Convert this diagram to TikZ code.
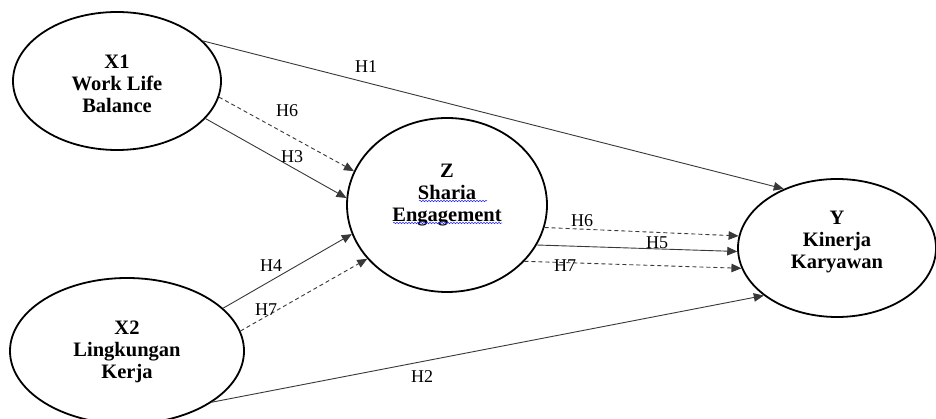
\documentclass[tikz,border=0pt]{standalone}
\usepackage{fontspec}
\setmainfont{Liberation Serif}
\usetikzlibrary{shapes.geometric,arrows.meta,decorations.pathmorphing}
\begin{document}
\begin{tikzpicture}[x=1pt,y=-1pt,
  var/.style={ellipse,draw=black,line width=1.8pt,inner sep=0pt},
  vtext/.style={align=center,inner sep=0pt,font=\fontsize{20.5}{22}\selectfont\bfseries},
  lab/.style={font=\fontsize{18}{20}\selectfont,inner sep=0pt},
  conn/.style={draw=black!78,line width=0.9pt,-{Triangle[length=10pt,width=8.5pt]}},
  dconn/.style={conn,dash pattern=on 4pt off 3pt},
  spell/.style={draw=blue!85!white,line width=0.5pt,decorate,
    decoration={snake,amplitude=0.7pt,segment length=3pt}}]
\useasboundingbox (0,0) rectangle (936,419);
\fill[white] (0,0) rectangle (936,419);
\node[var,minimum width=208pt,minimum height=138pt] (X1) at (117,81) {};
\node[var,minimum width=234pt,minimum height=146pt] (X2) at (127,351) {};
\node[var,minimum width=200pt,minimum height=174pt] (Z) at (447,205) {};
\node[var,minimum width=198pt,minimum height=138pt] (Y) at (837,248) {};
\node[vtext] (X1t) at (117,84) {X1\\Work Life\\Balance};
\node[vtext] (X2t) at (127,352) {X2\\Lingkungan\\Kerja};
\node[vtext] (Zt) at (447,195) {Z\\Sharia\\Engagement};
\node[vtext] (Yt) at (837,242) {Y\\Kinerja\\Karyawan};
% spell-check underlines
\coordinate (s1a) at (419,201); \coordinate (s1b) at (487,201);
\coordinate (s2a) at (393,223); \coordinate (s2b) at (502,223);
\draw[spell] (s1a) -- (s1b);
\draw[spell] (s2a) -- (s2b);
% connectors
\draw[conn]  (X1.25)  -- (Y.132);
\draw[dconn] (X1.-9.4) -- (Z.160);
\draw[conn]  (X1.-23.4) -- (Z.176);
\draw[conn]  (X2.24)  -- (Z.197);
\draw[dconn] (X2.10.5) -- (Z.214);
\draw[conn]  (X2.-31) -- (Y.213);
\draw[dconn] (Z.-13)  -- (Y.173);
\draw[conn]  (Z.-24)  -- (Y.182);
\draw[dconn] (Z.-36)  -- (Y.192);
% labels
\node[lab] (h1) at (366,67) {H1};
\node[lab] (h6a) at (287,111) {H6};
\node[lab] (h3) at (292,157) {H3};
\node[lab] (h4) at (271,266) {H4};
\node[lab] (h7a) at (266,310) {H7};
\node[lab] (h6b) at (582,221) {H6};
\node[lab] (h5) at (657,243) {H5};
\node[lab] (h7b) at (565,266) {H7};
\node[lab] (h2) at (422,377) {H2};
\end{tikzpicture}
\end{document}
